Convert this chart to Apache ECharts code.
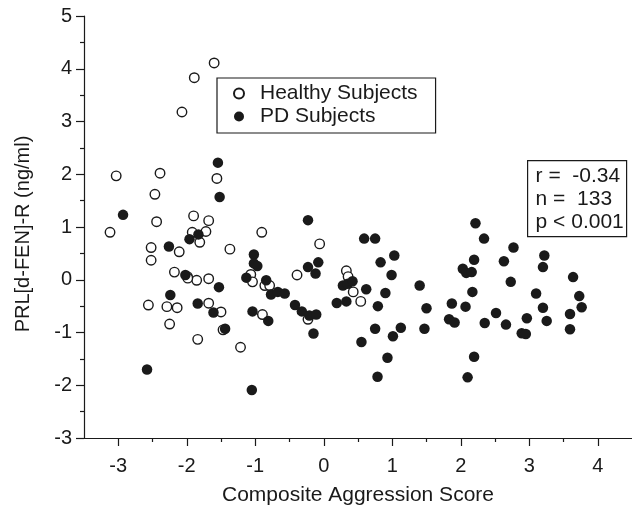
<!DOCTYPE html>
<html>
<head>
<meta charset="utf-8">
<script src="https://cdn.jsdelivr.net/npm/echarts@6/dist/echarts.min.js"></script>
<style>
html,body{margin:0;padding:0;background:#fff;}
#chart{width:632px;height:511px;}
</style>
</head>
<body>
<div id="chart"></div>
<script>
// ---- data ----
const xMajorTicks = [-3, -2, -1, 0, 1, 2, 3, 4];
const xMinorTicks = [-2.5, -1.5, -0.5, 0.5, 1.5, 2.5, 3.5];
const yMajorTicks = [-3, -2, -1, 0, 1, 2, 3, 4, 5];

const healthyPoints = [
  [-1.60, 4.11], [-1.89, 3.83], [-2.07, 3.18], [-3.03, 1.97], [-2.39, 2.02],
  [-1.56, 1.92], [-2.465, 1.62], [-2.44, 1.10], [-1.90, 1.21], [-1.68, 1.12],
  [-3.12, 0.90], [-1.92, 0.90], [-1.72, 0.915], [-1.81, 0.71], [-0.905, 0.90],
  [-2.52, 0.61], [-2.11, 0.53], [-1.37, 0.58], [-2.52, 0.37], [-2.18, 0.145],
  [-1.99, 0.06], [-1.855, -0.01], [-1.68, 0.02], [-1.065, 0.10], [-1.04, -0.04],
  [-0.86, -0.11], [-0.79, -0.11], [-2.56, -0.48], [-2.29, -0.51], [-2.14, -0.53],
  [-1.68, -0.445], [-1.50, -0.61], [-0.895, -0.66], [-2.25, -0.84], [-1.84, -1.13],
  [-1.215, -1.28], [-1.47, -0.95], [-0.06, 0.68], [-0.39, 0.09], [0.33, 0.17],
  [0.355, 0.06], [0.43, -0.23], [0.54, -0.41], [-0.23, -0.75], [-1.985, 0.03]
];

const pdPoints = [
  [-1.545, 2.22], [-1.52, 1.57], [-2.93, 1.23], [-1.83, 0.86], [-1.96, 0.77],
  [-2.26, 0.63], [-1.02, 0.48], [-1.02, 0.31], [-0.97, 0.26], [-2.02, 0.09],
  [-1.53, -0.14], [-1.13, 0.04], [-0.84, -0.01], [-0.77, -0.28], [-0.67, -0.23],
  [-0.57, -0.26], [-2.24, -0.29], [-1.84, -0.45], [-1.61, -0.62], [-1.04, -0.60],
  [-1.44, -0.93], [-0.81, -0.78], [-2.58, -1.70], [-1.05, -2.09], [-0.23, 1.13],
  [0.59, 0.78], [0.75, 0.78], [1.03, 0.46], [0.83, 0.33], [0.99, 0.09],
  [-0.08, 0.33], [-0.23, 0.24], [-0.12, 0.12], [0.28, -0.11], [0.35, -0.075],
  [0.42, -0.03], [0.62, -0.18], [0.90, -0.25], [0.19, -0.44], [0.33, -0.41],
  [0.79, -0.50], [1.40, -0.11], [1.50, -0.54], [-0.42, -0.48], [-0.32, -0.60],
  [-0.21, -0.68], [-0.11, -0.66], [-0.15, -1.02], [0.75, -0.93], [0.55, -1.18],
  [1.01, -1.07], [1.125, -0.91], [0.93, -1.48], [0.785, -1.84], [1.47, -0.93],
  [2.215, 1.07], [2.34, 0.78], [2.77, 0.61], [3.22, 0.46], [2.195, 0.38],
  [2.63, 0.35], [3.20, 0.24], [2.03, 0.21], [2.08, 0.13], [2.16, 0.145],
  [2.73, -0.04], [3.64, 0.05], [2.17, -0.23], [3.10, -0.26], [3.73, -0.31],
  [1.87, -0.45], [2.07, -0.51], [3.20, -0.53], [3.765, -0.52], [2.515, -0.63],
  [1.83, -0.75], [1.91, -0.81], [2.195, -1.46], [2.10, -1.85], [2.35, -0.82],
  [2.66, -0.85], [2.89, -1.015], [2.95, -1.03], [2.965, -0.73], [3.255, -0.78],
  [3.595, -0.65], [3.595, -0.94]
];

const statsLines = ['r =  -0.34', 'n =  133', 'p < 0.001'];
const seriesNames = ['Healthy Subjects', 'PD Subjects'];
const xTitle = 'Composite Aggression Score';
const yTitle = 'PRL[d-FEN]-R (ng/ml)';

// ---- chart ----
const INK = '#1a1a1a';
const FONT = '"Liberation Sans", Arial, Helvetica, sans-serif';
const chart = echarts.init(document.getElementById('chart'), null, {renderer: 'canvas'});

const option = {
  animation: false,
  backgroundColor: '#fff',
  textStyle: {fontFamily: FONT, color: INK},
  grid: {left: 84, right: -2, top: 16, bottom: 69.3, containLabel: false},
  legend: {
    orient: 'vertical',
    left: 217, top: 78,
    data: seriesNames,
    itemWidth: 10, itemHeight: 10,
    itemGap: 0,
    padding: [4, 18, 5, 16],
    borderColor: INK, borderWidth: 1.2,
    backgroundColor: '#fff',
    textStyle: {fontFamily: FONT, fontSize: 21, color: INK, lineHeight: 23, padding: [0, 0, 0, 11]},
    selectedMode: false
  },
  xAxis: [
    {
      type: 'value', min: -3.5, max: 4.5,
      name: xTitle, nameLocation: 'middle', nameGap: 47,
      nameTextStyle: {fontFamily: FONT, fontSize: 21, color: INK},
      axisLine: {show: true, onZero: false, lineStyle: {color: INK, width: 1.2}},
      axisTick: {show: true, customValues: xMajorTicks, length: 8, lineStyle: {color: INK, width: 1.2}},
      axisLabel: {show: true, customValues: xMajorTicks, margin: 18, fontFamily: FONT, fontSize: 20, color: INK},
      splitLine: {show: false}
    },
    {
      type: 'value', min: -3.5, max: 4.5, position: 'bottom', gridIndex: 0,
      axisLine: {show: false, onZero: false},
      axisTick: {show: true, customValues: xMinorTicks, length: 4, lineStyle: {color: INK, width: 1.2}},
      axisLabel: {show: false},
      splitLine: {show: false}
    }
  ],
  yAxis: {
    type: 'value', min: -3, max: 5, interval: 1,
    name: yTitle, nameLocation: 'middle', nameGap: 51, nameRotate: 90,
    nameTextStyle: {fontFamily: FONT, fontSize: 20, color: INK, padding: [0, 14, 0, 0]},
    axisLine: {show: true, onZero: false, lineStyle: {color: INK, width: 1.2}},
    axisTick: {show: true, length: 8, lineStyle: {color: INK, width: 1.2}},
    minorTick: {show: true, splitNumber: 2, length: 4, lineStyle: {color: INK, width: 1.2}},
    axisLabel: {margin: 12, fontFamily: FONT, fontSize: 20, color: INK},
    splitLine: {show: false},
    minorSplitLine: {show: false}
  },
  series: [
    {
      name: seriesNames[0], type: 'scatter', xAxisIndex: 0,
      symbol: 'circle', symbolSize: 9.5,
      itemStyle: {color: '#fff', borderColor: INK, borderWidth: 1.4, opacity: 1},
      data: healthyPoints, z: 2
    },
    {
      name: seriesNames[1], type: 'scatter', xAxisIndex: 0,
      symbol: 'circle', symbolSize: 10.5,
      itemStyle: {color: INK, borderColor: INK, borderWidth: 0, opacity: 1},
      data: pdPoints, z: 3
    }
  ],
  graphic: [
    {
      type: 'group', left: 527, top: 160,
      children: [
        {type: 'rect', shape: {x: 0, y: 0, width: 99, height: 76},
         style: {fill: '#fff', stroke: INK, lineWidth: 1.2}},
        {type: 'text', x: 8, y: 4,
         style: {text: statsLines.join('\n'), font: '21px ' + FONT, fill: INK, lineHeight: 23}}
      ]
    }
  ]
};
chart.setOption(option);
</script>
</body>
</html>
